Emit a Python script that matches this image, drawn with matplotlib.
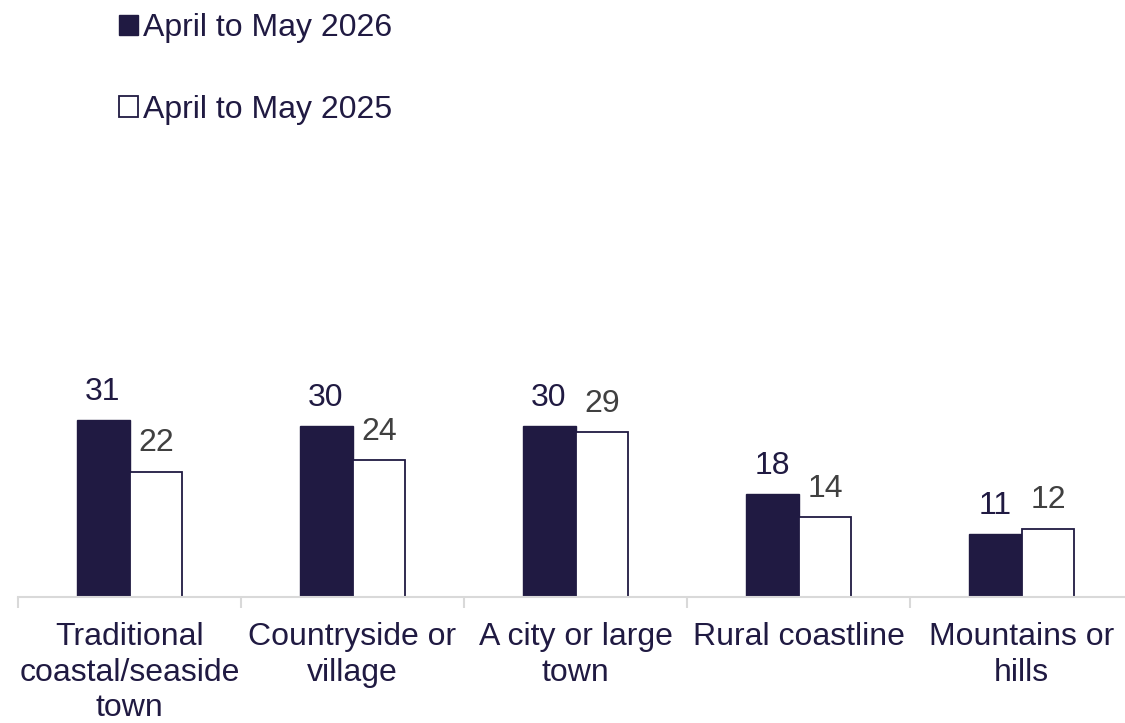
import matplotlib.pyplot as plt
import numpy as np

plt.rcParams['font.family'] = ['Liberation Sans', 'DejaVu Sans']

# data
categories = ["Traditional\ncoastal/seaside\ntown", "Countryside or\nvillage",
              "A city or large\ntown", "Rural coastline", "Mountains or\nhills"]
may_2026 = [31, 30, 30, 18, 11]
may_2025 = [22, 24, 29, 14, 12]

navy = "#201a42"
grey = "#404040"

fig = plt.figure(figsize=(11.25, 7.23), dpi=100)
ax = fig.add_axes([18/1125, 126/723, 1115/1125, 570/723])

x = np.arange(len(categories))
w = 0.2375
b1 = ax.bar(x - w/2, may_2026, w, color=navy, edgecolor=navy, linewidth=1,
            label="April to May 2026")
b2 = ax.bar(x + w/2, may_2025, w, color="white", edgecolor=navy, linewidth=1.3,
            label="April to May 2025")

for i in range(len(x)):
    ax.text(x[i] - w/2, may_2026[i] + 2.3, str(may_2026[i]), ha="center", va="bottom",
            fontsize=23, color=navy)
    ax.text(x[i] + w/2, may_2025[i] + 2.3, str(may_2025[i]), ha="center", va="bottom",
            fontsize=23, color=grey)

ax.set_xlim(-0.5, 4.5)
ax.set_ylim(0, 100)
ax.set_yticks([])
for s in ["top", "right", "left"]:
    ax.spines[s].set_visible(False)
ax.spines["bottom"].set_color("#d9d9d9")
ax.spines["bottom"].set_linewidth(1.5)

ax.set_xticks(x)
ax.set_xticklabels(categories, fontsize=23, color=navy, linespacing=1.25)
ax.tick_params(axis="x", length=0, pad=18)
ax.set_xticks(np.arange(-0.5, 5, 1), minor=True)
ax.tick_params(axis="x", which="minor", length=8, color="#d9d9d9", width=1.5)

leg = ax.legend(handles=[b1, b2], loc="upper left", bbox_to_anchor=(0.065, 1.075),
                frameon=False, fontsize=23, handlelength=0.6, handleheight=0.6,
                handletextpad=0.15, labelspacing=1.62)
for t in leg.get_texts():
    t.set_color(navy)

fig.savefig("out.png", dpi=100)
